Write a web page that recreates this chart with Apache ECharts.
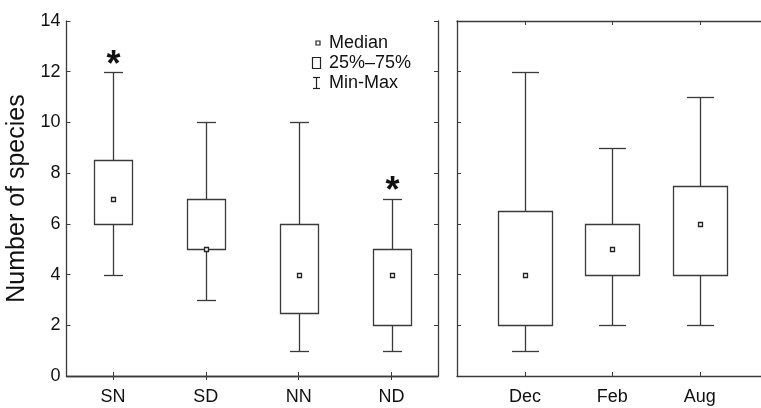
<!DOCTYPE html>
<html>
<head>
<meta charset="utf-8">
<script src="https://cdn.jsdelivr.net/npm/echarts@6/dist/echarts.min.js"></script>
<style>
html, body { margin: 0; padding: 0; background: #fff; }
#chart { width: 761px; height: 408px; }
</style>
</head>
<body>
<div id="chart"></div>
<script>
// sites panel
const siteCats = ['SN', 'SD', 'NN', 'ND'];
const siteMin = [4, 3, 1, 1];
const siteQ1 = [6, 5, 2.5, 2];
const siteMedian = [7, 5, 4, 4];
const siteQ3 = [8.5, 7, 6, 5];
const siteMax = [12, 10, 10, 7];
const siteStar = [1, 0, 0, 1];

// months panel
const monthCats = ['Dec', 'Feb', 'Aug'];
const monthPos = [1, 2, 3];
const monthMin = [1, 2, 2];
const monthQ1 = [2, 4, 4];
const monthMedian = [4, 5, 6];
const monthQ3 = [6.5, 6, 7.5];
const monthMax = [12, 9, 11];
const monthStar = [0, 0, 0];

const yTicks = [0, 2, 4, 6, 8, 10, 12, 14];

const LINE = '#3a3a3a';
const FONT = '"Liberation Sans", Arial, sans-serif';

function rows(xs, mn, q1, md, q3, mx, star) {
    return xs.map((x, i) => [x, mn[i], q1[i], md[i], q3[i], mx[i], star[i]]);
}

function boxRenderer(widthRatio) {
    return function (params, api) {
        const x = api.value(0);
        const pMin = api.coord([x, api.value(1)]);
        const pQ1 = api.coord([x, api.value(2)]);
        const pMed = api.coord([x, api.value(3)]);
        const pQ3 = api.coord([x, api.value(4)]);
        const pMax = api.coord([x, api.value(5)]);
        const bw = Math.round(api.size([1, 0])[0] * widthRatio);
        const cx = Math.round(pMed[0]) + 0.5;
        const ln = { stroke: LINE, lineWidth: 1.3 };
        const r = v => Math.round(v) + 0.5;
        const kids = [
            { type: 'line', shape: { x1: cx, y1: r(pMin[1]), x2: cx, y2: r(pQ1[1]) }, style: ln },
            { type: 'line', shape: { x1: cx, y1: r(pQ3[1]), x2: cx, y2: r(pMax[1]) }, style: ln },
            { type: 'line', shape: { x1: cx - bw / 4, y1: r(pMin[1]), x2: cx + bw / 4, y2: r(pMin[1]) }, style: ln },
            { type: 'line', shape: { x1: cx - bw / 4, y1: r(pMax[1]), x2: cx + bw / 4, y2: r(pMax[1]) }, style: ln },
            { type: 'rect', shape: { x: cx - bw / 2, y: r(pQ3[1]), width: bw, height: r(pQ1[1]) - r(pQ3[1]) },
              style: { fill: 'none', stroke: LINE, lineWidth: 1.3 } },
            { type: 'rect', shape: { x: cx - 2, y: r(pMed[1]) - 2, width: 4, height: 4 },
              style: { fill: '#fff', stroke: '#222', lineWidth: 1.3 } }
        ];
        if (api.value(6)) {
            kids.push({ type: 'text', x: cx, y: pMax[1] - 6,
                style: { text: '*', fontSize: 36, fontWeight: 'bold', fontFamily: FONT,
                         align: 'center', verticalAlign: 'middle', fill: '#111' } });
        }
        return { type: 'group', children: kids };
    };
}

const tickIn = { show: true, inside: true, length: 4, lineStyle: { color: LINE } };
const axLine = { show: true, lineStyle: { color: LINE, width: 1.3 } };

const chart = echarts.init(document.getElementById('chart'));
chart.setOption({
    animation: false,
    textStyle: { fontFamily: FONT },
    grid: [
        { left: 66.5, right: 323, top: 21, bottom: 32 },
        { left: 457, right: 0, top: 21, bottom: 32 }
    ],
    xAxis: [
        { type: 'category', gridIndex: 0, data: siteCats, position: 'bottom',
          axisLine: axLine, axisTick: Object.assign({ alignWithLabel: true }, tickIn),
          axisLabel: { fontSize: 18, color: '#111', margin: 12 }, splitLine: { show: false } },
        { type: 'category', gridIndex: 0, data: siteCats, position: 'top',
          axisLine: axLine, axisTick: Object.assign({ alignWithLabel: true }, tickIn),
          axisLabel: { show: false }, splitLine: { show: false } },
        { type: 'value', gridIndex: 1, min: 0.223, max: 3.7, position: 'bottom',
          axisLine: axLine, axisTick: Object.assign({ customValues: monthPos }, tickIn),
          axisLabel: { customValues: monthPos, fontSize: 18, color: '#111', margin: 12,
                       formatter: v => monthCats[monthPos.indexOf(Math.round(v))] },
          splitLine: { show: false } },
        { type: 'value', gridIndex: 1, min: 0.223, max: 3.7, position: 'top',
          axisLine: axLine, axisTick: Object.assign({ customValues: monthPos }, tickIn),
          axisLabel: { show: false }, splitLine: { show: false } }
    ],
    yAxis: [
        { type: 'value', gridIndex: 0, min: 0, max: 14, interval: 2, position: 'left',
          name: 'Number of species', nameLocation: 'middle', nameGap: 37,
          nameTextStyle: { fontSize: 25, color: '#111' },
          axisLine: axLine, axisTick: tickIn,
          axisLabel: { fontSize: 18, color: '#111', margin: 6,
                       customValues: yTicks },
          splitLine: { show: false } },
        { type: 'value', gridIndex: 0, min: 0, max: 14, interval: 2, position: 'right',
          axisLine: axLine, axisTick: tickIn, axisLabel: { show: false }, splitLine: { show: false } },
        { type: 'value', gridIndex: 1, min: 0, max: 14, interval: 2, position: 'left',
          axisLine: axLine, axisTick: tickIn, axisLabel: { show: false }, splitLine: { show: false } }
    ],
    graphic: [
        { type: 'rect', shape: { x: 316, y: 41, width: 4, height: 4 },
          style: { fill: '#fff', stroke: '#222', lineWidth: 1.2 } },
        { type: 'text', x: 329, y: 43, style: { text: 'Median', fontSize: 18, fontFamily: FONT,
          fill: '#111', verticalAlign: 'middle' } },
        { type: 'rect', shape: { x: 312.5, y: 57.5, width: 8, height: 11 },
          style: { fill: 'none', stroke: '#222', lineWidth: 1.2 } },
        { type: 'text', x: 329, y: 63, style: { text: '25%–75%', fontSize: 18, fontFamily: FONT,
          fill: '#111', verticalAlign: 'middle' } },
        { type: 'polyline', shape: { points: [[313, 77.5], [320, 77.5]] }, style: { stroke: '#222', lineWidth: 1.2 } },
        { type: 'polyline', shape: { points: [[313, 88.5], [320, 88.5]] }, style: { stroke: '#222', lineWidth: 1.2 } },
        { type: 'polyline', shape: { points: [[316.5, 77.5], [316.5, 88.5]] }, style: { stroke: '#222', lineWidth: 1.2 } },
        { type: 'text', x: 329, y: 83, style: { text: 'Min-Max', fontSize: 18, fontFamily: FONT,
          fill: '#111', verticalAlign: 'middle' } }
    ],
    series: [
        { type: 'custom', xAxisIndex: 0, yAxisIndex: 0, renderItem: boxRenderer(0.413),
          encode: { x: 0, y: [1, 2, 3, 4, 5] },
          data: rows([0, 1, 2, 3], siteMin, siteQ1, siteMedian, siteQ3, siteMax, siteStar) },
        { type: 'custom', xAxisIndex: 2, yAxisIndex: 2, renderItem: boxRenderer(0.612),
          encode: { x: 0, y: [1, 2, 3, 4, 5] },
          data: rows(monthPos, monthMin, monthQ1, monthMedian, monthQ3, monthMax, monthStar) }
    ]
});
</script>
</body>
</html>
